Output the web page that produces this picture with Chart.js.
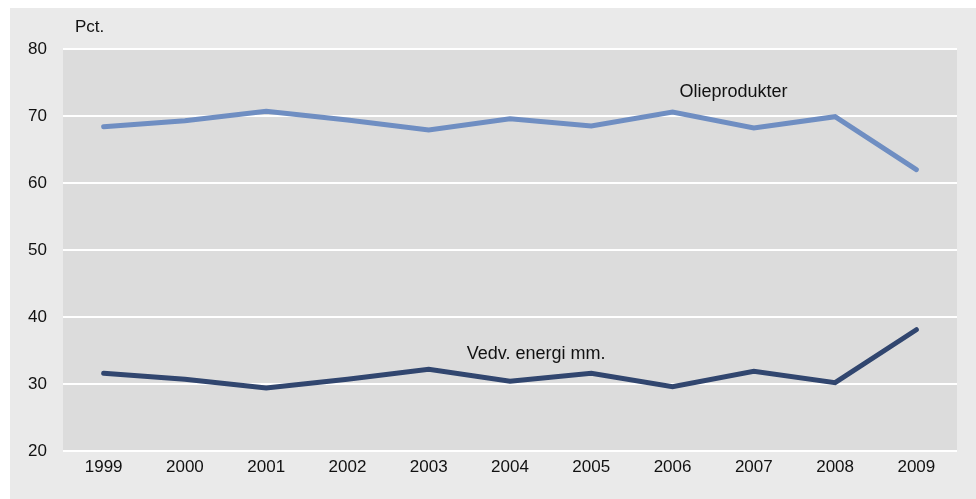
<!DOCTYPE html>
<html>
<head>
<meta charset="utf-8">
<script src="https://cdn.jsdelivr.net/npm/chart.js@4"></script>
<style>
  html,body{margin:0;padding:0;background:#fff;}
  #wrap{width:976px;height:499px;position:relative;}
</style>
</head>
<body>
<div id="wrap"><canvas id="c" width="976" height="499"></canvas></div>
<script>
// Olieprodukter vs. vedvarende energi, andel i pct.
const years = ['1999','2000','2001','2002','2003','2004','2005','2006','2007','2008','2009'];
const olie = [68.4, 69.3, 70.7, 69.4, 67.9, 69.6, 68.5, 70.6, 68.2, 69.9, 62.0];
const vedv = [31.6, 30.7, 29.4, 30.7, 32.2, 30.4, 31.6, 29.6, 31.9, 30.2, 38.1];
const yTicks = [20, 30, 40, 50, 60, 70, 80];

const FONT = '"Liberation Sans", Arial, sans-serif';

// backgrounds + text annotations
const decor = {
  id: 'decor',
  beforeDraw(chart){
    const {ctx, chartArea: a} = chart;
    ctx.save();
    ctx.fillStyle = '#ffffff';
    ctx.fillRect(0, 0, chart.width, chart.height);
    ctx.fillStyle = '#eaeaea';
    ctx.fillRect(10, 8, chart.width - 10, chart.height - 8);
    ctx.fillStyle = '#dcdcdc';
    ctx.fillRect(a.left, a.top, a.right - a.left, a.bottom - a.top);
    ctx.restore();
  },
  afterDraw(chart){
    const {ctx, scales: {x, y}} = chart;
    ctx.save();
    ctx.fillStyle = '#111';
    ctx.textBaseline = 'middle';
    ctx.textAlign = 'left';
    ctx.font = '17px ' + FONT;
    ctx.fillText('Pct.', 75, 27);
    ctx.font = '18px ' + FONT;
    ctx.fillText('Olieprodukter', x.getPixelForValue(7) + 7, y.getPixelForValue(73.6));
    ctx.fillText('Vedv. energi mm.', x.getPixelForValue(4) + 38, y.getPixelForValue(34.5));
    ctx.restore();
  }
};

new Chart(document.getElementById('c'), {
  type: 'line',
  data: {
    labels: years,
    datasets: [
      {label: 'Olieprodukter', data: olie, borderColor: '#6f8ec2', borderWidth: 5, pointRadius: 0, tension: 0, borderCapStyle: 'round', borderJoinStyle: 'miter'},
      {label: 'Vedv. energi mm.', data: vedv, borderColor: '#31466f', borderWidth: 5, pointRadius: 0, tension: 0, borderCapStyle: 'round', borderJoinStyle: 'miter'}
    ]
  },
  options: {
    responsive: false,
    animation: false,
    layout: {padding: {top: 49, right: 19, left: 0, bottom: 0}},
    plugins: {legend: {display: false}, tooltip: {enabled: false}},
    scales: {
      x: {
        offset: true,
        grid: {display: false, drawTicks: false},
        border: {display: false},
        ticks: {color: '#111', font: {family: FONT, size: 17}, padding: 6, maxRotation: 0},
        afterFit(s){ s.height = 48; }
      },
      y: {
        min: 20, max: 80,
        afterBuildTicks(s){ s.ticks = yTicks.map(v => ({value: v})); },
        grid: {color: '#ffffff', lineWidth: 2, drawTicks: false},
        border: {display: false},
        ticks: {color: '#111', font: {family: FONT, size: 17}, padding: 16},
        afterFit(s){ s.width = 63; }
      }
    }
  },
  plugins: [decor]
});
</script>
</body>
</html>
